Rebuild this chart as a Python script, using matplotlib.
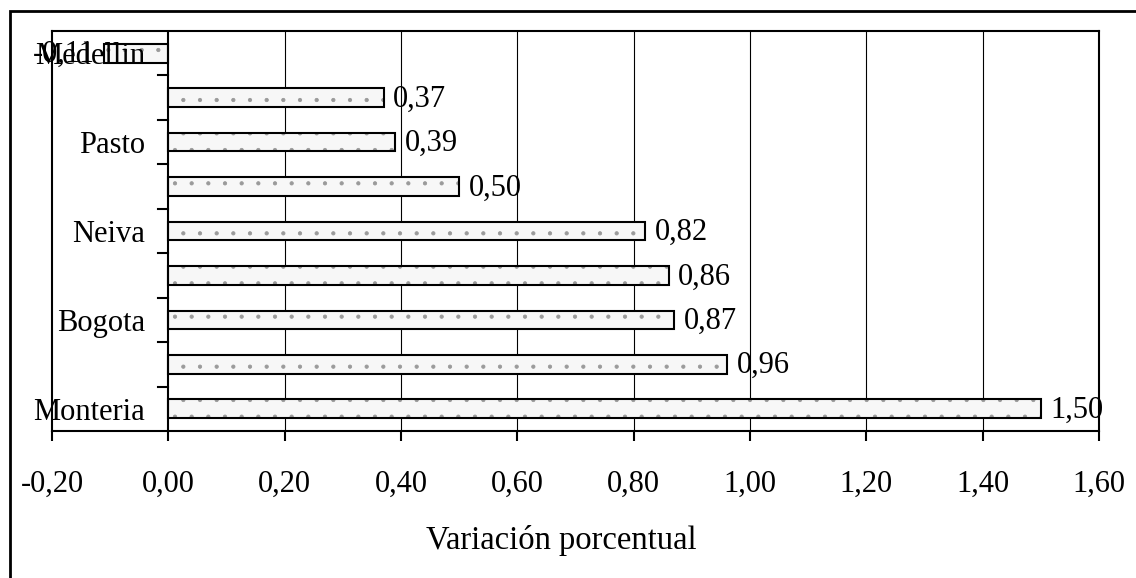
import matplotlib.pyplot as plt
from matplotlib.patches import Rectangle

# data, bottom to top
cities = ["Monteria", "", "Bogota", "", "Neiva", "", "Pasto", "", "Medellin"]
values = [1.50, 0.96, 0.87, 0.86, 0.82, 0.50, 0.39, 0.37, -0.11]
xticks = [-0.2, 0.0, 0.2, 0.4, 0.6, 0.8, 1.0, 1.2, 1.4, 1.6]

plt.rcParams['font.family'] = ['Liberation Serif', 'DejaVu Serif']
plt.rcParams['font.size'] = 22
plt.rcParams['hatch.linewidth'] = 0.6

fig = plt.figure(figsize=(11.36, 5.78), dpi=100)
ax = fig.add_axes([52 / 1136, 1 - 431 / 578, (1099 - 52) / 1136, 400 / 578])

pos = list(range(len(cities)))

# grid lines behind the bars
for x in xticks[2:-1]:
    ax.axvline(x, color='black', lw=0.8, zorder=1)
ax.axvline(0, color='black', lw=1.5, zorder=2.2)

# dotted fill, then black outline (kept under the tick labels)
ax.barh(pos, values, height=0.42, color='#f7f7f7', edgecolor='#9a9a9a',
        hatch='.', lw=0, zorder=1.5)
ax.barh(pos, values, height=0.42, fill=False, edgecolor='black', lw=1.5, zorder=2)

for p, v in zip(pos, values):
    txt = f"{v:.2f}".replace('.', ',')
    if v >= 0:
        ax.annotate(txt, (v, p), xytext=(7, -1), textcoords='offset points',
                    ha='left', va='center', zorder=5)
    else:
        ax.annotate(txt, (v, p), xytext=(-7, -1), textcoords='offset points',
                    ha='right', va='center', zorder=5)

ax.set_xlim(-0.2, 1.6)
ax.set_ylim(-0.5, len(cities) - 0.5)
ax.set_xticks(xticks)
ax.set_xticklabels([f"{x:.2f}".replace('.', ',') for x in xticks])
ax.tick_params(axis='x', direction='out', length=7, width=1.5, pad=21)

# category ticks between bars, labels at bar centres
ax.set_yticks([p + 0.5 for p in pos[:-1]])
ax.set_yticklabels([])
ax.set_yticks(pos, minor=True)
ax.set_yticklabels(cities, minor=True)
ax.tick_params(axis='y', which='major', length=0)
ax.tick_params(axis='y', which='minor', length=0, pad=0)
for lab in ax.get_yticklabels(minor=True):
    lab.set_horizontalalignment('right')
    lab.set_x((145 - 52) / 1047)
# tick marks on the zero line
for p in pos[:-1]:
    ax.plot([-0.2 * 10 / 116.3, 0], [p + 0.5, p + 0.5], color='black', lw=1.5,
            zorder=2.2, clip_on=False)

for s in ax.spines.values():
    s.set_linewidth(1.5)

ax.set_xlabel("Variación porcentual", fontsize=23.5, va='center')
ax.xaxis.set_label_coords((561 - 52) / 1047, (431 - 541) / 400)

fig.add_artist(Rectangle((10 / 1136, -0.1), 1.2, (578 - 11) / 578 + 0.1,
                         transform=fig.transFigure, fill=False, lw=2,
                         edgecolor='black', clip_on=False))

fig.savefig("out.png", dpi=100)
